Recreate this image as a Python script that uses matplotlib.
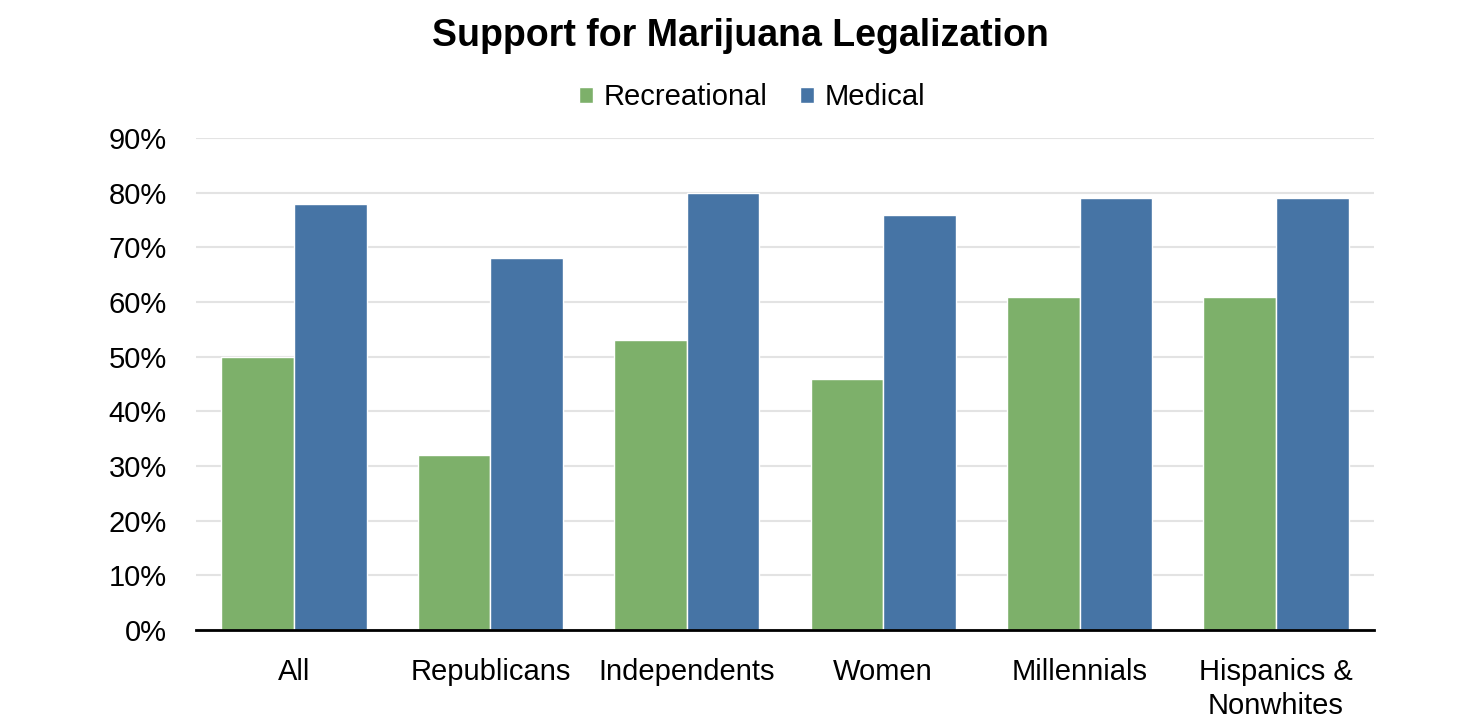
import numpy as np
import matplotlib
matplotlib.use("Agg")
import matplotlib.pyplot as plt
from matplotlib.ticker import PercentFormatter

plt.rcParams["font.family"] = ["Liberation Sans", "DejaVu Sans"]

groups = ["All", "Republicans", "Independents", "Women", "Millennials",
          "Hispanics &\nNonwhites"]
recreational = [50, 32, 53, 46, 61, 61]
medical = [78, 68, 80, 76, 79, 79]

GREEN = "#7db06a"
BLUE = "#4674a5"

fig = plt.figure(figsize=(14.8, 7.27), dpi=100)
ax = fig.add_axes([0.1324, 0.1334, 0.7960, 0.6768])

x = np.arange(len(groups))
w = 0.37
ax.bar(x - w / 2, recreational, w, color=GREEN, edgecolor="white",
       linewidth=1, label="Recreational", zorder=3)
ax.bar(x + w / 2, medical, w, color=BLUE, edgecolor="white",
       linewidth=1, label="Medical", zorder=3)

ax.set_xlim(-0.5, len(groups) - 0.5)
ax.set_ylim(0, 90)
ax.set_yticks(range(0, 91, 10))
ax.yaxis.set_major_formatter(PercentFormatter(decimals=0))
ax.set_xticks(x)
ax.set_xticklabels(groups, fontsize=21, linespacing=1.3)
ax.tick_params(axis="y", labelsize=21, length=0, pad=21)
ax.tick_params(axis="x", length=0, pad=20)
ax.grid(axis="y", color="#e3e3e3", linewidth=1.5, zorder=0)
for s in ["top", "right", "left"]:
    ax.spines[s].set_visible(False)
ax.spines["bottom"].set_linewidth(2)
ax.spines["bottom"].set_zorder(4)

fig.suptitle("Support for Marijuana Legalization", fontsize=27,
             fontweight="bold", y=0.975)
fig.legend(loc="center", bbox_to_anchor=(0.508, 0.866), ncol=2, frameon=False,
           fontsize=21, handlelength=0.5, handleheight=0.5,
           handletextpad=0.35, columnspacing=1.1)

fig.savefig("out.png", dpi=100)
